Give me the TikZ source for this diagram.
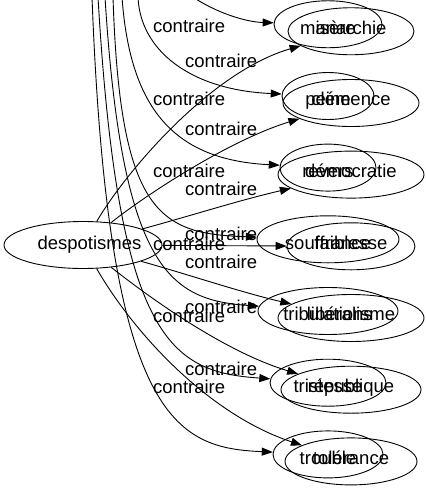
\documentclass[tikz,border=0pt]{standalone}
\usepackage{fontspec}
\setmainfont{Liberation Sans}
\usetikzlibrary{shapes.geometric,arrows.meta}
\begin{document}
\begin{tikzpicture}[x=1pt,y=-1pt,
  txt/.style={font=\fontsize{18.5}{22}\selectfont},
  lbl/.style={txt,anchor=base west,inner sep=0pt},
  ell/.style={txt,draw,ellipse,line width=0.9pt,inner sep=0pt,minimum height=47pt,text depth=3.5pt},
  src/.style={ell,text height=13pt},
  dtgt/.style={ell,text height=9pt},
  htgt/.style={ell,text height=23pt},
  conn/.style={line width=0.9pt,-{Triangle[length=11pt,width=8pt]}},
]
\useasboundingbox (0,0) rectangle (426,491);
% source node
\node[src,minimum width=158pt] (desp) at (83,245) {\hspace*{13pt}\makebox[0pt]{despotismes}};
% targets of despotismes
\node[dtgt,minimum width=126pt] (anarchie) at (351,31.25) {anarchie};
\node[dtgt,minimum width=136pt] (clemence) at (351,103) {clémence};
\node[dtgt,minimum width=146pt] (democratie) at (351,174.6) {démocratie};
\node[dtgt,minimum width=128pt] (faiblesse) at (351,246.3) {faiblesse};
\node[dtgt,minimum width=146pt] (liberalisme) at (351,318) {libéralisme};
\node[dtgt,minimum width=140pt] (republique) at (351,389.7) {république};
\node[dtgt,minimum width=132pt] (tolerance) at (351,461.4) {tolérance};
% overlapping targets of the node above the picture
\node[htgt,minimum width=108pt] (misere) at (328,24.25) {misère};
\node[htgt,minimum width=92pt] (peine) at (328,96) {peine};
\node[htgt,minimum width=96pt] (revers) at (328,167.6) {revers};
\node[htgt,minimum width=142pt] (souffrance) at (328,239.3) {souffrance};
\node[htgt,minimum width=140pt] (tribulations) at (328,311) {tribulations};
\node[htgt,minimum width=116pt] (tristesse) at (328,382.7) {tristesse};
\node[htgt,minimum width=110pt] (trouble) at (328,454.4) {trouble};
% free ends at the top edge
\coordinate (h1) at (193,-3);
\coordinate (h2) at (138,-3);
\coordinate (h3) at (122,-3);
\coordinate (h4) at (113,-3);
\coordinate (h5) at (105,-3);
\coordinate (h6) at (98,-3);
\coordinate (h7) at (92,-3);
% connectors from despotismes
\draw[conn] (desp) .. controls (125,173) and (210,72) .. (anarchie);
\draw[conn] (desp) .. controls (147,194) and (230,140) .. (clemence);
\draw[conn] (desp) .. controls (190,216) and (240,200) .. (democratie);
\draw[conn] (desp) -- (faiblesse);
\draw[conn] (desp) .. controls (190,275) and (240,292) .. (liberalisme);
\draw[conn] (desp) .. controls (150,298) and (225,352) .. (republique);
\draw[conn] (desp) .. controls (135,335) and (210,415) .. (tolerance);
% connectors from above
\draw[conn] (h1) .. controls (215,12) and (245,22) .. (misere);
\draw[conn] (h2) .. controls (140,50) and (190,90) .. (peine);
\draw[conn] (h3) .. controls (130,110) and (175,160) .. (revers);
\draw[conn] (h4) .. controls (120,215) and (160,234) .. (souffrance);
\draw[conn] (h5) .. controls (122,270) and (170,300) .. (tribulations);
\draw[conn] (h6) .. controls (118,340) and (170,372) .. (tristesse);
\draw[conn] (h7) .. controls (108,420) and (175,448) .. (trouble);
% edge labels
\node[lbl] (c1) at (153,32) {contraire};
\node[lbl] (c2) at (185,67) {contraire};
\node[lbl] (c3) at (153,105) {contraire};
\node[lbl] (c4) at (185,135) {contraire};
\node[lbl] (c5) at (153,177) {contraire};
\node[lbl] (c6) at (185,195) {contraire};
\node[lbl] (c7) at (185,240) {contraire};
\node[lbl] (c8) at (153,250) {contraire};
\node[lbl] (c9) at (185,268) {contraire};
\node[lbl] (c10) at (185,313) {contraire};
\node[lbl] (c11) at (153,322) {contraire};
\node[lbl] (c12) at (185,375) {contraire};
\node[lbl] (c13) at (153,393) {contraire};
\end{tikzpicture}
\end{document}
